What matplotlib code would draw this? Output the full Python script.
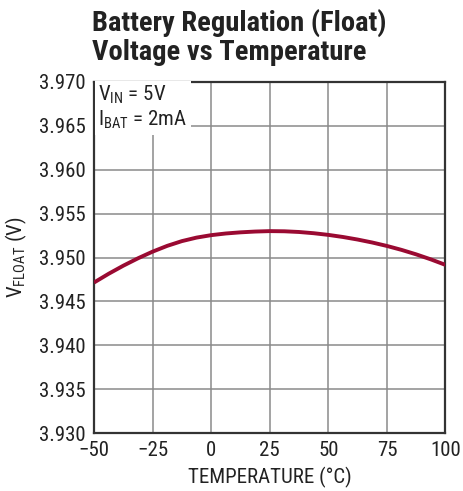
import matplotlib
matplotlib.use("Agg")
import matplotlib.pyplot as plt
from matplotlib import font_manager

temps = [-50, -43.75, -37.5, -31.25, -25, -18.75, -12.5, -6.25, 0, 6.25, 12.5, 18.75,
         25, 31.25, 37.5, 43.75, 50, 56.25, 62.5, 68.75, 75, 81.25, 87.5, 93.75, 100]
vfloat = [3.94715, 3.94815, 3.94907, 3.94991, 3.95067, 3.95133, 3.95187, 3.95227,
          3.95255, 3.95274, 3.95287, 3.95296, 3.95301, 3.95299, 3.95291, 3.95277,
          3.95258, 3.95234, 3.95205, 3.95171, 3.95132, 3.95087, 3.95036, 3.94979,
          3.94916]
xticks = [-50, -25, 0, 25, 50, 75, 100]
xticklabels = ["\u221250", "\u221225", "0", "25", "50", "75", "100"]
yticks = [3.930, 3.935, 3.940, 3.945, 3.950, 3.955, 3.960, 3.965, 3.970]

# choose a condensed sans family (Helvetica Condensed look-alike)
fams = {}
for f in font_manager.fontManager.ttflist:
    fams.setdefault(f.name, set()).add((f.weight, f.style))
prefs = ["Liberation Sans Narrow", "Roboto Condensed", "Archivo Narrow", "PT Sans Narrow",
         "Arimo Narrow", "Nimbus Sans Narrow", "Pragati Narrow", "Encode Sans Condensed",
         "Fira Sans Condensed", "IBM Plex Sans Condensed", "Asap Condensed", "Barlow Semi Condensed"]
def has_bold(n):
    return any((w in (700, 'bold')) for w, s in fams.get(n, set()))
narrow = None
for p in prefs:
    if p in fams and has_bold(p):
        narrow = p
        break
if narrow is None:
    for p in prefs:
        if p in fams:
            narrow = p
            break
if narrow is None:
    narrow = "DejaVu Sans"
    plt.rcParams['font.stretch'] = 'condensed'

plt.rcParams['font.family'] = [narrow, 'DejaVu Sans']
plt.rcParams['mathtext.fontset'] = 'custom'
plt.rcParams['mathtext.rm'] = narrow
plt.rcParams['mathtext.it'] = narrow

fig = plt.figure(figsize=(4.64, 4.91), dpi=100)
ax = fig.add_axes([0.2026, 0.118, 0.7575, 0.715])

ax.plot(temps, vfloat, color="#9a0a32", lw=2.8, solid_capstyle='butt',
        solid_joinstyle='round', zorder=3)
ax.set_xlim(-50, 100)
ax.set_ylim(3.930, 3.970)
ax.set_xticks(xticks)
ax.set_xticklabels(xticklabels)
ax.set_yticks(yticks)
ax.set_yticklabels([f"{v:.3f}" for v in yticks])
ax.grid(True, color="#8a8a8a", lw=1.1)
ax.set_axisbelow(True)
ax.tick_params(axis='both', length=0, labelsize=15, colors="#222222", pad=6)
for s in ax.spines.values():
    s.set_color("#333333")
    s.set_linewidth(1.6)

ax.set_xlabel("TEMPERATURE (°C)", fontsize=15, color="#222222", labelpad=5)
ax.set_ylabel("V$_{\\mathrm{FLOAT}}$ (V)", fontsize=15, color="#222222", labelpad=7)

ax.text(0.012, 0.994, "V$_{\\mathrm{IN}}$ = 5V\nI$_{\\mathrm{BAT}}$ = 2mA", transform=ax.transAxes,
        ha='left', va='top', fontsize=15, color="#222222", linespacing=1.15,
        bbox=dict(facecolor='white', edgecolor='none', pad=2.5), zorder=4)

fig.text(0.198, 0.982, "Battery Regulation (Float)\nVoltage vs Temperature", ha='left', va='top',
         fontsize=20.5, fontweight='bold', color="#222222", linespacing=1.1)

fig.savefig("out.png", dpi=100)
